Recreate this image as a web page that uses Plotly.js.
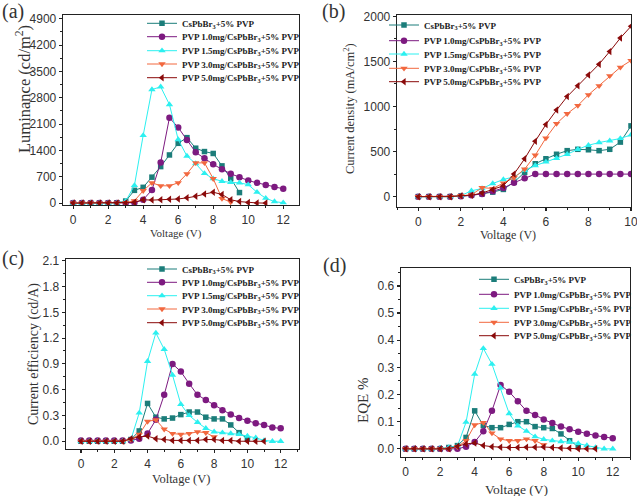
<!DOCTYPE html>
<html>
<head>
<meta charset="utf-8">
<script src="https://cdn.plot.ly/plotly-3.0.1.min.js"></script>
<style>html,body{margin:0;padding:0;background:#fff;}#chart{width:637px;height:496px;}</style>
</head>
<body>
<div id="chart"></div>
<script>
// ---- shared
const voltage = [0,0.5,1,1.5,2,2.5,3,3.5,4,4.5,5,5.5,6,6.5,7,7.5,8,8.5,9,9.5,10,10.5,11,11.5,12];
const seriesNames = [
  "<b>CsPbBr<sub>3</sub>+5% PVP</b>",
  "<b>PVP 1.0mg/CsPbBr<sub>3</sub>+5% PVP</b>",
  "<b>PVP 1.5mg/CsPbBr<sub>3</sub>+5% PVP</b>",
  "<b>PVP 3.0mg/CsPbBr<sub>3</sub>+5% PVP</b>",
  "<b>PVP 5.0mg/CsPbBr<sub>3</sub>+5% PVP</b>"
];
const colors = ["#1b7d7a", "#7d1a80", "#2cf0f0", "#f2683f", "#8a0a0a"];
const symbols = ["square", "circle", "triangle-up", "triangle-down", "triangle-left"];

// ---- (a) Luminance (cd/m2)
const lumTeal   = [0,0,0,0,0,10,55,340,420,690,970,1280,1590,1740,1460,1370,1320,990,660,280];
const lumPurple = [0,0,0,0,0,0,0,10,90,350,1080,2270,2010,1680,1350,1190,1030,900,780,690,600,540,480,430,380];
const lumCyan   = [0,0,0,0,0,5,50,470,1800,3020,3090,2620,1690,1250,1050,790,650,580,550,540,490,290,130,40,10];
const lumOrange = [0,0,0,0,0,0,10,60,330,540,460,460,540,780,1070,1070,650,120,30];
const lumDark   = [0,0,0,0,0,0,10,20,90,80,90,100,110,140,180,240,290,230,90,40,15,5,0];

// ---- (b) Current density (mA/cm2)
const jTeal   = [0,0,0,0,5,15,30,50,80,160,270,365,420,470,510,525,520,510,525,605,785];
const jPurple = [0,0,0,0,5,15,30,60,95,155,205,250,250,250,250,250,250,250,250,250,250];
const jCyan   = [0,0,0,0,10,65,90,145,190,220,290,345,385,425,470,525,570,600,620,645,685];
const jOrange = [0,0,0,0,10,20,100,90,150,210,305,460,650,810,920,1010,1130,1230,1340,1435,1510];
const jDark   = [0,0,0,0,10,15,40,80,120,250,420,615,800,960,1110,1230,1350,1470,1610,1760,1890];

// ---- (c) Current efficiency (cd/A)
const ceTeal   = [0,0,0,0,0,0,0.02,0.12,0.44,0.28,0.26,0.27,0.31,0.34,0.34,0.28,0.26,0.26,0.19,0.10,0.03];
const cePurple = [0.01,0.01,0.01,0.01,0.01,0.01,0.01,0.03,0.09,0.25,0.54,0.90,0.81,0.67,0.54,0.48,0.42,0.36,0.31,0.27,0.24,0.21,0.19,0.16,0.15];
const ceCyan   = [0,0,0,0,0,0,0.02,0.33,0.93,1.26,1.07,0.77,0.43,0.30,0.22,0.15,0.11,0.10,0.09,0.08,0.06,0.04,0.01,0,0];
const ceOrange = [0,0,0,0,0,0,0.02,0.08,0.23,0.25,0.14,0.09,0.08,0.09,0.11,0.10,0.05];
const ceDark   = [0,0,0,0,0,0,0.03,0.05,0.06,0.03,0.02,0.01,0.01,0.01,0.01,0.02,0.02,0.01,0.01,0,0,0,0];

// ---- (d) EQE %
const eqeTeal   = [0,0,0,0,0,0.005,0.012,0.042,0.14,0.086,0.078,0.078,0.09,0.10,0.10,0.082,0.078,0.075,0.055,0.03,0.008];
const eqePurple = [0,0,0,0,0,0,0,0.008,0.025,0.065,0.14,0.235,0.21,0.175,0.14,0.125,0.108,0.095,0.082,0.072,0.063,0.056,0.049,0.044,0.039];
const eqeCyan   = [0,0,0,0,0.003,0.005,0.01,0.098,0.275,0.37,0.312,0.225,0.13,0.085,0.065,0.045,0.035,0.03,0.027,0.025,0.02,0.012,0.005,0,0];
const eqeOrange = [0,0,0,0,0,0,0.008,0.03,0.088,0.097,0.058,0.036,0.03,0.03,0.036,0.03,0.015];
const eqeDark   = [0,0,0,0,0,0,0.01,0.018,0.022,0.012,0.008,0.006,0.005,0.005,0.006,0.006,0.007,0.005,0.003,0.002,0,0,0];

const xTitle = "Voltage (V)";
const yTitles = ["Luminance (cd/m<sup>2</sup>)", "Current density (mA/cm<sup>2</sup>)", "Current efficiency (cd/A)", "EQE %"];
const panelTags = ["(a)", "(b)", "(c)", "(d)"];

const panels = [
  {series:[lumTeal,lumPurple,lumCyan,lumOrange,lumDark], xa:'x', ya:'y'},
  {series:[jTeal,jPurple,jCyan,jOrange,jDark], xa:'x2', ya:'y2'},
  {series:[ceTeal,cePurple,ceCyan,ceOrange,ceDark], xa:'x3', ya:'y3'},
  {series:[eqeTeal,eqePurple,eqeCyan,eqeOrange,eqeDark], xa:'x4', ya:'y4'}
];

// legend layout (pixels in the 637x496 page)
const W = 637, H = 496;
const legTextLeft = [182, 424, 182, 514];
const legRows = [
  [23.3, 36.7, 50.7, 64.0, 77.7],
  [25.0, 40.7, 54.0, 68.3, 81.7],
  [269.0, 282.3, 295.7, 309.0, 322.7],
  [279.3, 294.3, 308.3, 322.3, 335.7]
];

const traces = [];
const layout = {
  width: W, height: H,
  margin: {l:0, r:0, t:0, b:0},
  paper_bgcolor: '#fff', plot_bgcolor: '#fff',
  showlegend: true,
  annotations: []
};

panels.forEach((p, pi) => {
  p.series.forEach((ys, si) => {
    const k = pi*5 + si + 1;
    const legName = k === 1 ? 'legend' : 'legend' + k;
    traces.push({
      type: 'scatter', mode: 'lines+markers',
      x: voltage.slice(0, ys.length), y: ys,
      xaxis: p.xa, yaxis: p.ya,
      name: seriesNames[si],
      legend: legName,
      line: {color: colors[si], width: 1},
      marker: {color: colors[si], symbol: symbols[si], size: si === 0 ? 5.5 : 6.5, line: {width: 0}}
    });
    layout[legName] = {
      x: (legTextLeft[pi] - 40) / W, y: 1 - legRows[pi][si] / H,
      xanchor: 'left', yanchor: 'middle',
      bgcolor: 'rgba(0,0,0,0)', borderwidth: 0,
      font: {family: 'Liberation Serif', size: 9, color: '#222'},
      itemwidth: 30
    };
  });
});

function axis(domain, range, dtick, minorDtick, fmt, anchor) {
  const a = {
    domain: domain, range: range, anchor: anchor,
    showline: true, linecolor: '#222', linewidth: 1.3, mirror: true,
    ticks: 'outside', ticklen: 3, tickwidth: 1.2, tickcolor: '#222',
    tick0: 0, dtick: dtick,
    showgrid: false, zeroline: false,
    ticklabeloverflow: 'allow',
    tickfont: {family: 'Liberation Sans', size: 12, color: '#333'},
    minor: {ticks: 'outside', ticklen: 2, tickwidth: 1, tickcolor: '#222', dtick: minorDtick, tick0: 0, showgrid: false},
    automargin: false
  };
  if (fmt) a.tickformat = fmt;
  return a;
}
const px = v => v / W, py = v => 1 - v / H;

layout.xaxis  = axis([px(63), px(299)], [-0.58, 12.9], 2, 1, null, 'y');
layout.yaxis  = axis([py(205), py(15)], [-50, 5000], 700, 350, null, 'x');
layout.xaxis2 = axis([px(397), px(631)], [-1, 10], 2, 1, null, 'y2');
layout.yaxis2 = axis([py(207), py(15)], [-115, 2015], 500, 250, null, 'x2');
layout.xaxis3 = axis([px(66), px(299)], [-0.9, 13.1], 2, 1, null, 'y3');
layout.yaxis3 = axis([py(449), py(259)], [-0.09, 2.12], 0.3, 0.15, '.1f', 'x3');
layout.xaxis4 = axis([px(401), px(630)], [-0.27, 13], 2, 1, null, 'y4');
layout.yaxis4 = axis([py(457), py(268)], [-0.03, 0.666], 0.1, 0.05, '.1f', 'x4');

// titles placed as text in page pixels: [x, y, size]
const xTitlePos = [[176, 233, 11], [508, 234.5, 12], [181, 479, 12.5], [516, 489, 13.5]];
const yTitlePos = [[23, 89, 16.5], [349, 109, 12.5], [34, 354, 14], [363, 401, 15]];
const tagPos = [[13, 11], [333, 11], [13, 258], [334, 265]];

function ann(text, x, y, size, angle) {
  layout.annotations.push({
    text: text, xref: 'paper', yref: 'paper', x: x / W, y: 1 - y / H,
    xanchor: 'center', yanchor: 'middle', showarrow: false, textangle: angle || 0,
    font: {family: 'Liberation Serif', size: size, color: '#333'}
  });
}
for (let i = 0; i < 4; i++) {
  ann(xTitle, xTitlePos[i][0], xTitlePos[i][1], xTitlePos[i][2], 0);
  ann(yTitles[i], yTitlePos[i][0], yTitlePos[i][1], yTitlePos[i][2], -90);
  ann(panelTags[i], tagPos[i][0], tagPos[i][1], 20, 0);
}

Plotly.newPlot('chart', traces, layout, {staticPlot: true});
</script>
</body>
</html>
